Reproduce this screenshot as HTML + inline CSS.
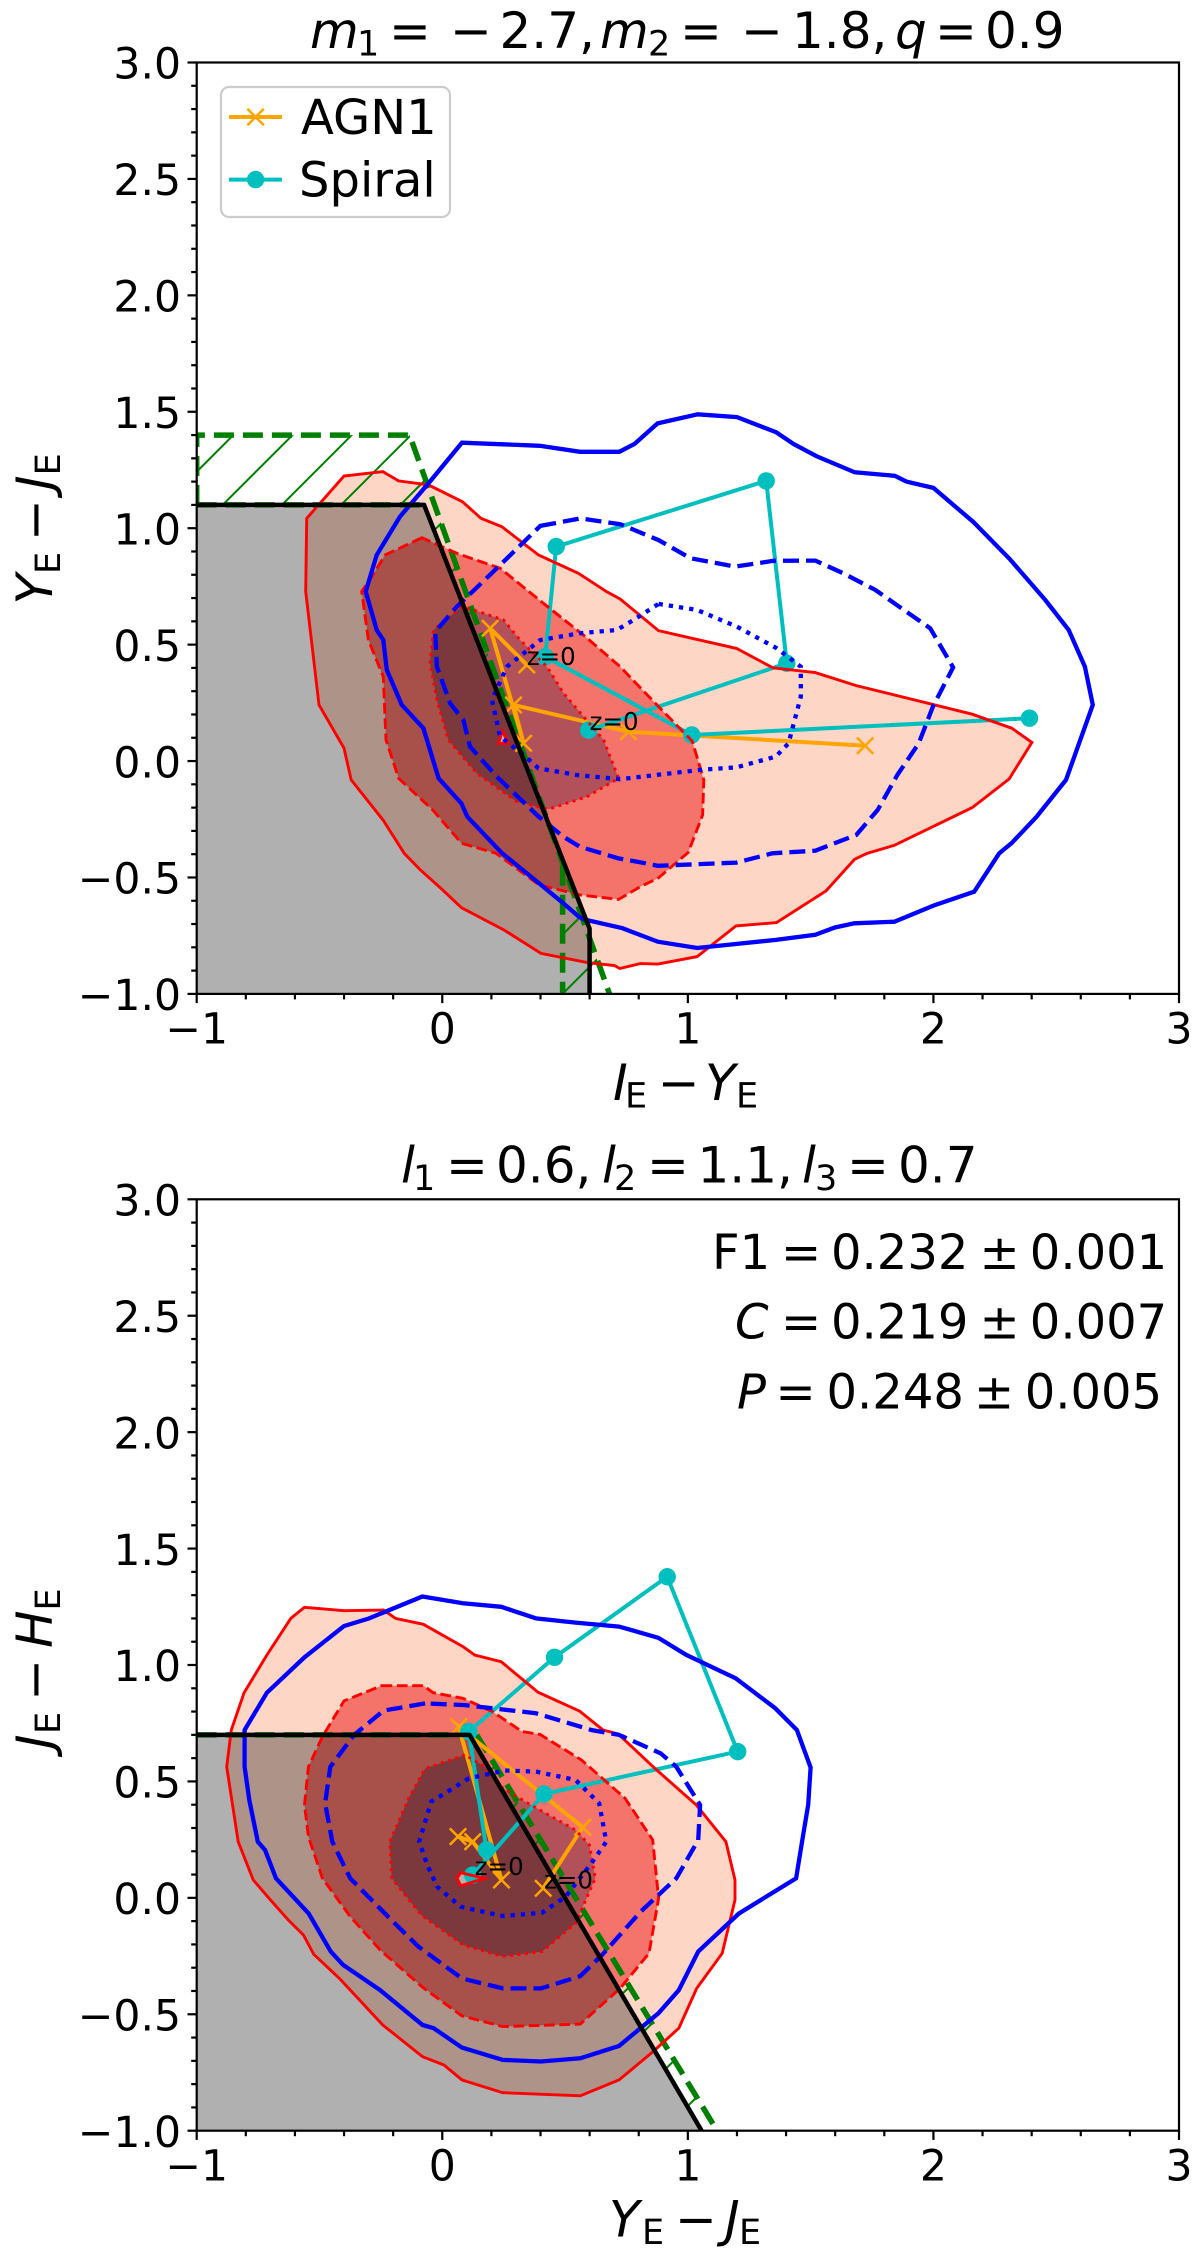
<!DOCTYPE html>
<html lang="en">
<head>
<meta charset="utf-8">
<title>AGN1 and Spiral colour-colour selection</title>
<style>
html,body{margin:0;padding:0;background:#fff;}
svg{display:block;}
text{font-family:"DejaVu Sans","Liberation Sans",sans-serif;fill:#000;}
</style>
</head>
<body>
<svg id="fig" xmlns="http://www.w3.org/2000/svg" width="1200" height="2262" viewBox="0 0 1200 2262">
  <rect width="1200" height="2262" fill="#fff"/>
  <g id="panel-a"></g>
  <g id="panel-b"></g>

  <text font-size="50" y="48.2"><tspan x="310" font-style="italic">m</tspan><tspan x="357" y="55.4" font-size="35">1</tspan><tspan x="389" y="48.2">=</tspan><tspan x="450">−</tspan><tspan x="499.5">2.7,</tspan><tspan x="600" font-style="italic">m</tspan><tspan x="648" y="55.4" font-size="35">2</tspan><tspan x="680" y="48.2">=</tspan><tspan x="741">−</tspan><tspan x="792">1.8,</tspan><tspan x="895" font-style="italic">q</tspan><tspan x="935">=</tspan><tspan x="985">0.9</tspan></text>
  <text font-size="50" y="1100"><tspan x="613" font-style="italic">I</tspan><tspan x="625" y="1107.5" font-size="35">E</tspan><tspan x="657.7" y="1100">−</tspan><tspan x="705" font-style="italic">Y</tspan><tspan x="736" y="1107.5" font-size="35">E</tspan></text>
  <text font-size="50" transform="translate(52,0) rotate(-90)" y="0"><tspan x="-604.5" font-style="italic">Y</tspan><tspan x="-574" y="8" font-size="35">E</tspan><tspan x="-541" y="0">−</tspan><tspan x="-490" font-style="italic">J</tspan><tspan x="-475.4" y="8" font-size="35">E</tspan></text>

  <g>
    <rect x="221" y="87" width="229" height="130" rx="8" ry="8" fill="#fff" fill-opacity="0.8" stroke="#ccc" stroke-width="2.2"/>
    <g>
      <line x1="229" x2="282" y1="117" y2="117" stroke="#ffa500" stroke-width="4"/>
      <path d="M247.4 108.8L263.8 125.2M247.4 125.2L263.8 108.8" stroke="#ffa500" stroke-width="2.5" fill="none"/>
      <text x="301" y="134" font-size="48">AGN1</text>
    </g>
    <g>
      <line x1="229" x2="282" y1="179.6" y2="179.6" stroke="#00bfbf" stroke-width="4"/>
      <circle cx="255.6" cy="179.6" r="8.7" fill="#00bfbf"/>
      <text x="299" y="196.4" font-size="48">Spiral</text>
    </g>
  </g>

  <text font-size="50" y="1182.7"><tspan x="401" font-style="italic">l</tspan><tspan x="413" y="1190" font-size="35">1</tspan><tspan x="446" y="1182.7">=</tspan><tspan x="496">0.6,</tspan><tspan x="602" font-style="italic">l</tspan><tspan x="614" y="1190" font-size="35">2</tspan><tspan x="647" y="1182.7">=</tspan><tspan x="697.5">1.1,</tspan><tspan x="802" font-style="italic">l</tspan><tspan x="815" y="1190" font-size="35">3</tspan><tspan x="847" y="1182.7">=</tspan><tspan x="898">0.7</tspan></text>
  <text font-size="50" y="2236.7"><tspan x="609" font-style="italic">Y</tspan><tspan x="642" y="2244" font-size="35">E</tspan><tspan x="675" y="2236.7">−</tspan><tspan x="725" font-style="italic">J</tspan><tspan x="739" y="2244" font-size="35">E</tspan></text>
  <text font-size="50" transform="translate(52,0) rotate(-90)" y="0"><tspan x="-1749" font-style="italic">J</tspan><tspan x="-1734" y="8" font-size="35">E</tspan><tspan x="-1700.7" y="0">−</tspan><tspan x="-1648" font-style="italic">H</tspan><tspan x="-1610.5" y="8" font-size="35">E</tspan></text>

  <text font-size="48" y="1269"><tspan x="712">F1</tspan><tspan x="781">=</tspan><tspan x="831">0.232</tspan><tspan x="979.5">±</tspan><tspan x="1029.8">0.001</tspan></text>
  <text font-size="48" y="1338.3"><tspan x="735" font-style="italic">C</tspan><tspan x="781">=</tspan><tspan x="831">0.219</tspan><tspan x="979.5">±</tspan><tspan x="1029.8">0.007</tspan></text>
  <text font-size="48" y="1408.3"><tspan x="737" font-style="italic">P</tspan><tspan x="775.5">=</tspan><tspan x="826.5">0.248</tspan><tspan x="974">±</tspan><tspan x="1024.7">0.005</tspan></text>
</svg>

<script>
// ---------- shared axis data ----------
const xMajorTicks = [-1, 0, 1, 2, 3];
const yMajorTicks = [-1, -0.5, 0, 0.5, 1, 1.5, 2, 2.5, 3];
const xMinorTicks = [-0.8,-0.6,-0.4,-0.2,0.2,0.4,0.6,0.8,1.2,1.4,1.6,1.8,2.2,2.4,2.6,2.8];
const yMinorTicks = [-0.9,-0.8,-0.7,-0.6,-0.4,-0.3,-0.2,-0.1,0.1,0.2,0.3,0.4,0.6,0.7,0.8,0.9,1.1,1.2,1.3,1.4,1.6,1.7,1.8,1.9,2.1,2.2,2.3,2.4,2.6,2.7,2.8,2.9];
const xTickLabels = ['−1','0','1','2','3'];
const yTickLabels = ['−1.0','−0.5','0.0','0.5','1.0','1.5','2.0','2.5','3.0'];

// ---------- top panel data (I-Y, Y-J) ----------
const a_redOuter = [[-.552,1.042],[-.40,1.224],[-.242,1.243],[-.178,1.203],[-.056,1.186],[.082,1.114],[.158,1.042],[.242,1.007],[.392,.885],[.555,.806],[.67,.727],[.724,.696],[.881,.56],[1.198,.484],[1.347,.4],[1.519,.38],[1.686,.324],[2.158,.201],[2.319,.141],[2.401,.08],[2.308,-.077],[2.158,-.2],[1.841,-.362],[1.73,-.396],[1.679,-.422],[1.562,-.558],[1.361,-.694],[1.196,-.708],[1.038,-.84],[.878,-.872],[.806,-.87],[.723,-.891],[.701,-.878],[.593,-.866],[.402,-.826],[.252,-.726],[.078,-.63],[-.005,-.547],[-.089,-.468],[-.155,-.396],[-.24,-.255],[-.371,-.081],[-.4,.055],[-.502,.241],[-.556,.728]];
const a_redMid = [[-.083,.959],[-.233,.885],[-.287,.792],[-.328,.728],[-.301,.52],[-.24,.362],[-.229,.091],[-.178,-.074],[-.039,-.21],[.078,-.353],[.219,-.396],[.394,-.532],[.56,-.575],[.718,-.594],[.806,-.54],[.879,-.503],[1.002,-.392],[1.06,-.232],[1.065,-.081],[1.018,.085],[.874,.241],[.724,.405],[.575,.541],[.412,.677],[.236,.828],[.059,.892]];
const a_redInner = [[.08,.663],[-.036,.563],[-.05,.42],[-.022,.262],[.025,.09],[.141,-.053],[.304,-.174],[.433,-.207],[.589,-.153],[.718,-.074],[.657,.091],[.575,.191],[.494,.291],[.426,.405],[.317,.52],[.249,.606],[.127,.649]];
const a_redCore = [[.245,.129],[.229,.076],[.27,.076]];
const a_blueOuter = [[.08,1.367],[.397,1.354],[.561,1.328],[.721,1.328],[.783,1.362],[.877,1.45],[1.04,1.489],[1.2,1.477],[1.36,1.412],[1.43,1.362],[1.524,1.309],[1.68,1.24],[1.843,1.225],[1.89,1.2],[2.0,1.173],[2.163,1.026],[2.31,.868],[2.455,.692],[2.551,.563],[2.617,.405],[2.649,.241],[2.54,-.081],[2.42,-.239],[2.318,-.353],[2.268,-.396],[2.166,-.561],[2.0,-.621],[1.841,-.69],[1.678,-.697],[1.599,-.715],[1.519,-.746],[1.358,-.768],[1.038,-.803],[.878,-.776],[.806,-.747],[.734,-.718],[.576,-.68],[.556,-.668],[.493,-.611],[.402,-.532],[.244,-.396],[.102,-.239],[.078,-.182],[-.015,-.074],[-.077,.141],[-.165,.241],[-.226,.391],[-.24,.52],[-.267,.563],[-.312,.728],[-.267,.885],[-.172,1.05],[-.056,1.193]];
const a_blueMid = [[.399,1.01],[.562,1.042],[.725,1.017],[.881,.949],[1.01,.871],[1.193,.835],[1.349,.86],[1.519,.861],[1.634,.806],[1.763,.735],[1.987,.57],[2.08,.402],[1.998,.234],[1.94,.076],[1.853,-.06],[1.773,-.21],[1.686,-.317],[1.519,-.385],[1.344,-.396],[1.198,-.436],[.878,-.45],[.806,-.435],[.718,-.418],[.56,-.368],[.493,-.325],[.393,-.239],[.222,-.067],[.113,.062],[.086,.176],[.032,.248],[-.022,.405],[-.029,.556],[.059,.663],[.229,.835]];
const a_blueInner = [[.881,.675],[1.037,.649],[1.2,.577],[1.363,.484],[1.46,.405],[1.46,.277],[1.41,.076],[1.358,.019],[1.198,-.027],[1.05,-.038],[.724,-.078],[.548,-.06],[.392,-.031],[.331,.026],[.236,.105],[.202,.262],[.263,.405],[.399,.52],[.562,.549],[.711,.563],[.779,.606]];
const a_boundary = [[-1,1.1],[-.074,1.1],[.6,-.72],[.6,-1]];
const a_greySelection = [[-1,-1],[-1,1.1],[-.074,1.1],[.6,-.72],[.6,-1]];
const a_greenUpper = [[-1,1.1],[-1,1.4],[-.133,1.4],[.681,-1]];
const a_greenFloor = [[-1,1.1],[-.074,1.1]];
const a_greenVertical = [[.49,-.45],[.49,-1]];
const a_hatchUpper = [[-1,1.1],[-1,1.4],[-.133,1.4],[.45,-.32],[-.074,1.1]];
const a_hatchLower = [[.49,-.45],[.49,-1],[.681,-1]];
const a_agnX = [.344,.195,.331,.29,.758,1.722];
const a_agnY = [.413,.57,.076,.241,.126,.066];
const a_spiralX = [.596,1.403,1.319,.464,.419,1.016,2.391];
const a_spiralY = [.133,.42,1.203,.921,.448,.112,.184];
const a_zLabelX = [.344,.6];
const a_zLabelY = [.413,.134];

// ---------- bottom panel data (Y-J, J-H) ----------
const b_redOuter = [[-.561,1.248],[-.4,1.233],[-.239,1.236],[-.19,1.2],[-.077,1.175],[.084,1.079],[.132,1.043],[.24,1.014],[.39,.883],[.559,.802],[.655,.721],[.716,.704],[.873,.549],[1.034,.399],[1.155,.241],[1.192,.077],[1.192,-.009],[1.14,-.238],[1.036,-.389],[.963,-.56],[.859,-.66],[.72,-.782],[.562,-.85],[.246,-.837],[.08,-.782],[.007,-.718],[-.08,-.682],[-.242,-.546],[-.419,-.346],[-.523,-.243],[-.565,-.16],[-.627,-.095],[-.7,-.009],[-.77,.077],[-.831,.241],[-.878,.563],[-.859,.721],[-.807,.881],[-.714,1.043],[-.617,1.2]];
const b_redMid = [[-.247,.911],[-.077,.911],[-.037,.881],[.084,.857],[.204,.8],[.325,.714],[.398,.702],[.567,.592],[.744,.428],[.857,.249],[.881,-.002],[.842,-.238],[.724,-.389],[.562,-.542],[.246,-.553],[.08,-.507],[-.08,-.384],[-.253,-.224],[-.375,-.08],[-.488,.084],[-.545,.263],[-.561,.399],[-.545,.563],[-.488,.692],[-.4,.846]];
const b_redInner = [[.092,.614],[-.069,.556],[-.134,.435],[-.214,.241],[-.206,.084],[-.086,-.074],[.084,-.202],[.245,-.252],[.406,-.231],[.543,-.109],[.623,.084],[.599,.227],[.543,.291],[.349,.406],[.237,.478],[.172,.564]];
const b_redCore = [[.06,.084],[.075,.108],[.172,.084],[.075,.052]];
const b_blueOuter = [[-.081,1.294],[.084,1.265],[.24,1.25],[.382,1.2],[.543,1.182],[.72,1.165],[.88,1.117],[.994,1.043],[1.195,.943],[1.356,.814],[1.444,.721],[1.5,.56],[1.49,.4],[1.465,.24],[1.441,.084],[1.208,-.067],[1.042,-.231],[.963,-.396],[.88,-.496],[.72,-.636],[.562,-.689],[.402,-.703],[.246,-.696],[.08,-.643],[-.035,-.56],[-.08,-.546],[-.253,-.396],[-.404,-.288],[-.454,-.231],[-.544,-.067],[-.677,.084],[-.722,.206],[-.751,.241],[-.786,.42],[-.805,.563],[-.805,.721],[-.714,.881],[-.561,1.033],[-.4,1.167],[-.298,1.2]];
const b_blueMid = [[-.07,.835],[-.239,.804],[-.359,.7],[-.456,.563],[-.477,.406],[-.448,.241],[-.375,.084],[-.214,-.088],[-.097,-.21],[.08,-.346],[.246,-.389],[.402,-.389],[.562,-.336],[.651,-.245],[.808,-.059],[.953,.084],[1.042,.248],[1.05,.399],[.953,.563],[.889,.621],[.72,.7],[.607,.721],[.381,.793],[.204,.814],[.092,.828]];
const b_blueInner = [[.108,.513],[-.045,.413],[-.094,.241],[-.061,.141],[-.021,.048],[.075,-.038],[.245,-.078],[.406,-.064],[.502,.005],[.607,.148],[.668,.241],[.639,.406],[.543,.506],[.382,.542],[.253,.547]];
const b_boundary = [[-1,.7],[.111,.7],[1.056,-1]];
const b_greySelection = [[-1,-1],[-1,.7],[.111,.7],[1.056,-1]];
const b_greenUpper = [[.14,.7],[1.119,-1]];
const b_greenFloor = [[-1,.7],[.14,.7]];
const b_hatchRegion = [[.14,.7],[1.119,-1],[1.056,-1],[.111,.7]];
const b_agnX = [.411,.572,.067,.241,.124,.064];
const b_agnY = [.041,.303,.735,.077,.241,.263];
const b_spiralX = [.124,.414,1.203,.916,.457,.108,.18];
const b_spiralY = [.098,.446,.628,1.379,1.033,.714,.206];
const b_zLabelX = [.414,.132];
const b_zLabelY = [.041,.098];

const SVGNS = 'http://www.w3.org/2000/svg';
const AXIS_LEFT = 196.7, AXIS_RIGHT = 1179, AXIS_W = AXIS_RIGHT - AXIS_LEFT, AXIS_H = 931.4;
const FILL_LIGHT = '#fdd6c5', FILL_MID = '#f4746c', FILL_DARK = '#b25159';
const ORANGE = '#ffa500', CYAN = '#00bfbf', BLUE = '#0000ff', RED = '#ff0000', GREEN = '#008000';

function make(tag, attrs, parent, name) {
  const el = document.createElementNS(SVGNS, tag);
  for (const k in attrs) el.setAttribute(k, attrs[k]);
  
  
  parent.appendChild(el);
  return el;
}

function drawPanel(cfg) {
  const root = document.getElementById(cfg.id);
  const top = cfg.top;
  const sx = v => AXIS_LEFT + AXIS_W * (v + 1) / 4;
  const sy = v => top + AXIS_H * (3 - v) / 4;
  const pts = arr => arr.map(p => sx(p[0]).toFixed(1) + ',' + sy(p[1]).toFixed(1)).join(' ');
  const zip = (xs, ys) => xs.map((x, i) => [x, ys[i]]);

  const defs = make('defs', {}, root, cfg.prefix + '-defs');
  const clip = make('clipPath', {id: cfg.id + '-clip'}, defs, cfg.prefix + '-clip-area');
  make('rect', {x: AXIS_LEFT, y: top, width: AXIS_W, height: AXIS_H}, clip, cfg.prefix + '-clip-rect');

  const plot = make('g', {'clip-path': 'url(#' + cfg.id + '-clip)'}, root, cfg.prefix + '-plot-area');

  const poly = (arr, attrs, name) => make('polygon', Object.assign({points: pts(arr)}, attrs), plot, cfg.prefix + '-' + name);
  const open = (arr, attrs, name) => make('polyline', Object.assign({points: pts(arr), fill: 'none'}, attrs), plot, cfg.prefix + '-' + name);

  // filled density contours
  poly(cfg.redOuter, {fill: FILL_LIGHT}, 'density-fill-outer');
  poly(cfg.redMid, {fill: FILL_MID}, 'density-fill-middle');
  poly(cfg.redInner, {fill: FILL_DARK}, 'density-fill-inner');
  poly(cfg.redCore, {fill: '#fff'}, 'density-fill-core');

  // grey selection region
  poly(cfg.grey, {fill: '#000', 'fill-opacity': 0.31}, 'selection-region');

  // hatching between selections
  cfg.hatchRegions.forEach((region, r) => {
    const cid = cfg.id + '-hatch-' + r;
    const cp = make('clipPath', {id: cid}, defs, cfg.prefix + '-hatch-clip-' + r);
    make('polygon', {points: pts(region)}, cp, cfg.prefix + '-hatch-clip-shape-' + r);
    const hg = make('g', {'clip-path': 'url(#' + cid + ')', stroke: GREEN, 'stroke-width': 2}, plot, cfg.prefix + '-hatch-' + r);
    const minSum = AXIS_LEFT + top, maxSum = AXIS_RIGHT + top + AXIS_H;
    const first = Math.ceil((minSum - cfg.hatchPhase) / cfg.hatchStep);
    const last = Math.floor((maxSum - cfg.hatchPhase) / cfg.hatchStep);
    for (let k = first; k <= last; k++) {
      const c = cfg.hatchPhase + k * cfg.hatchStep;
      make('line', {x1: c - (top + AXIS_H), y1: top + AXIS_H, x2: c - top, y2: top}, hg, cfg.prefix + '-hatch-line');
    }
  });

  // green dashed selection
  cfg.green.forEach((seg, i) => open(seg, {stroke: GREEN, 'stroke-width': 5.5, 'stroke-dasharray': '20 9'}, 'green-selection-' + i));

  // tracks
  open(zip(cfg.agnX, cfg.agnY), {stroke: ORANGE, 'stroke-width': 4}, 'agn1-track');
  const agnPts = zip(cfg.agnX, cfg.agnY);
  agnPts.forEach(p => {
    const x = sx(p[0]), y = sy(p[1]), s = 8.2;
    make('path', {d: 'M' + (x - s) + ' ' + (y - s) + 'L' + (x + s) + ' ' + (y + s) + 'M' + (x - s) + ' ' + (y + s) + 'L' + (x + s) + ' ' + (y - s), stroke: ORANGE, 'stroke-width': 2.5, fill: 'none'}, plot, cfg.prefix + '-agn1-point');
  });
  open(zip(cfg.spiralX, cfg.spiralY), {stroke: CYAN, 'stroke-width': 4}, 'spiral-track');
  zip(cfg.spiralX, cfg.spiralY).forEach(p => {
    make('circle', {cx: sx(p[0]), cy: sy(p[1]), r: 8.7, fill: CYAN}, plot, cfg.prefix + '-spiral-point');
  });

  // contour outlines
  poly(cfg.redOuter, {fill: 'none', stroke: RED, 'stroke-width': 2.9}, 'agn1-contour-outer');
  poly(cfg.redMid, {fill: 'none', stroke: RED, 'stroke-width': 2.9, 'stroke-dasharray': '10.7 4.6'}, 'agn1-contour-middle');
  poly(cfg.redInner, {fill: 'none', stroke: RED, 'stroke-width': 2.9, 'stroke-dasharray': '2.9 4.6'}, 'agn1-contour-inner');
  poly(cfg.redCore, {fill: 'none', stroke: RED, 'stroke-width': 2.9}, 'agn1-contour-core');
  poly(cfg.blueOuter, {fill: 'none', stroke: BLUE, 'stroke-width': 4.3}, 'spiral-contour-outer');
  poly(cfg.blueMid, {fill: 'none', stroke: BLUE, 'stroke-width': 4.3, 'stroke-dasharray': '16 7'}, 'spiral-contour-middle');
  poly(cfg.blueInner, {fill: 'none', stroke: BLUE, 'stroke-width': 4.3, 'stroke-dasharray': '4.3 6'}, 'spiral-contour-inner');

  // black boundary
  open(cfg.boundary, {stroke: '#000', 'stroke-width': 4.5, 'stroke-linejoin': 'round'}, 'selection-boundary');

  // z=0 labels
  cfg.zX.forEach((x, i) => {
    const t = make('text', {x: sx(x), y: sy(cfg.zY[i]), 'font-size': 24.5}, plot, cfg.prefix + '-z0-label');
    t.textContent = 'z=0';
  });

  // spines
  const sp = make('g', {stroke: '#000', 'stroke-width': 2.2, fill: 'none'}, root, cfg.prefix + '-axes-frame');
  make('rect', {x: AXIS_LEFT, y: top, width: AXIS_W, height: AXIS_H}, sp, cfg.prefix + '-spines');

  // ticks
  const tg = make('g', {stroke: '#000', 'stroke-width': 2.2}, root, cfg.prefix + '-ticks');
  const bottom = top + AXIS_H;
  xMajorTicks.forEach(v => make('line', {x1: sx(v), x2: sx(v), y1: bottom, y2: bottom + 9.2}, tg, cfg.prefix + '-x-major-tick'));
  xMinorTicks.forEach(v => make('line', {x1: sx(v), x2: sx(v), y1: bottom, y2: bottom + 5.5}, tg, cfg.prefix + '-x-minor-tick'));
  yMajorTicks.forEach(v => make('line', {x1: AXIS_LEFT - 9.2, x2: AXIS_LEFT, y1: sy(v), y2: sy(v)}, tg, cfg.prefix + '-y-major-tick'));
  yMinorTicks.forEach(v => make('line', {x1: AXIS_LEFT - 5.5, x2: AXIS_LEFT, y1: sy(v), y2: sy(v)}, tg, cfg.prefix + '-y-minor-tick'));

  xMajorTicks.forEach((v, i) => {
    const t = make('text', {x: sx(v), y: bottom + 49.8, 'font-size': 42.5, 'text-anchor': 'middle'}, root, cfg.prefix + '-x-tick-label');
    t.textContent = xTickLabels[i];
  });
  yMajorTicks.forEach((v, i) => {
    const t = make('text', {x: 181, y: sy(v) + 16.2, 'font-size': 42.5, 'text-anchor': 'end'}, root, cfg.prefix + '-y-tick-label');
    t.textContent = yTickLabels[i];
  });
}

drawPanel({
  id: 'panel-a', prefix: 'top', top: 62.5,
  redOuter: a_redOuter, redMid: a_redMid, redInner: a_redInner, redCore: a_redCore,
  blueOuter: a_blueOuter, blueMid: a_blueMid, blueInner: a_blueInner,
  boundary: a_boundary, grey: a_greySelection,
  green: [a_greenUpper, a_greenFloor, a_greenVertical],
  hatchRegions: [a_hatchUpper, a_hatchLower], hatchPhase: 668.4, hatchStep: 59.2,
  agnX: a_agnX, agnY: a_agnY, spiralX: a_spiralX, spiralY: a_spiralY,
  zX: a_zLabelX, zY: a_zLabelY
});
drawPanel({
  id: 'panel-b', prefix: 'bottom', top: 1199.3,
  redOuter: b_redOuter, redMid: b_redMid, redInner: b_redInner, redCore: b_redCore,
  blueOuter: b_blueOuter, blueMid: b_blueMid, blueInner: b_blueInner,
  boundary: b_boundary, grey: b_greySelection,
  green: [b_greenUpper, b_greenFloor],
  hatchRegions: [b_hatchRegion], hatchPhase: 2261, hatchStep: 59.2,
  agnX: b_agnX, agnY: b_agnY, spiralX: b_spiralX, spiralY: b_spiralY,
  zX: b_zLabelX, zY: b_zLabelY
});
</script>
</body>
</html>
